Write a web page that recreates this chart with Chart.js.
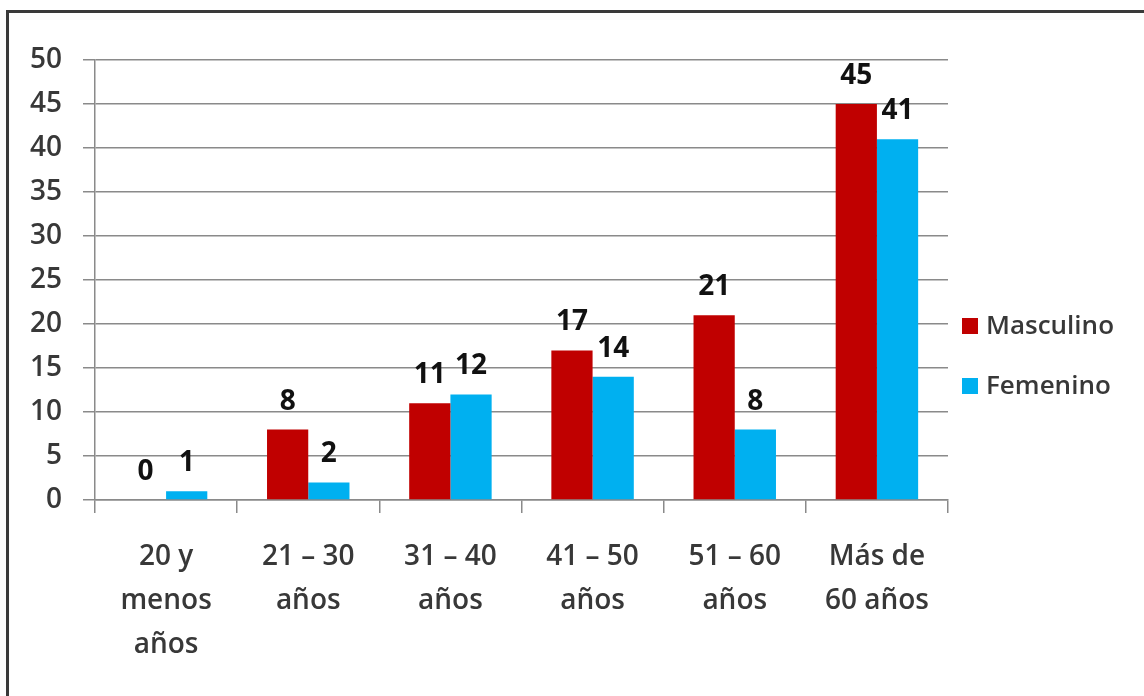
<!DOCTYPE html>
<html>
<head>
<meta charset="utf-8">
<script src="https://cdn.jsdelivr.net/npm/chart.js@4.4.1/dist/chart.umd.min.js"></script>
<style>
  html, body { margin: 0; padding: 0; background: #fff; }
  #wrap { position: relative; width: 1144px; height: 696px; overflow: hidden; }
  #frame { position: absolute; left: 6px; top: 10px; width: 1200px; height: 800px;
           border-top: 3px solid #3a3a3a; border-left: 3px solid #3a3a3a; box-sizing: border-box; }
  canvas { position: absolute; left: 0; top: 0; }
</style>
</head>
<body>
<div id="wrap">
  <div id="frame"></div>
  <canvas id="c" width="1144" height="696"></canvas>
</div>
<script>
const categories = [["20 y", "menos", "años"], ["21 – 30", "años"], ["31 – 40", "años"], ["41 – 50", "años"], ["51 – 60", "años"], ["Más de", "60 años"]];
const masculino = [0, 8, 11, 17, 21, 45];
const femenino = [1, 2, 12, 14, 8, 41];
const seriesNames = ["Masculino", "Femenino"];
const seriesColors = ["#C00000", "#00B0F0"];
const yMin = 0, yMax = 50, yStep = 5;

const FONT = "'Open Sans', Lato, sans-serif";
const TEXT = "#383838";

const valueLabels = {
  id: 'valueLabels',
  afterDatasetsDraw(chart) {
    const ctx = chart.ctx;
    ctx.save();
    ctx.font = "bold 28px " + FONT;
    ctx.fillStyle = "#111";
    ctx.textAlign = "center";
    ctx.textBaseline = "alphabetic";
    chart.data.datasets.forEach((ds, di) => {
      chart.getDatasetMeta(di).data.forEach((bar, i) => {
        ctx.fillText(String(ds.data[i]), bar.x, bar.y - 20);
      });
    });
    ctx.restore();
  }
};

const customLegend = {
  id: 'customLegend',
  afterDraw(chart) {
    const ctx = chart.ctx;
    ctx.save();
    ctx.font = "600 26px " + FONT;
    ctx.textBaseline = "middle";
    ctx.textAlign = "left";
    const x0 = 962, ys = [326, 386];
    chart.data.datasets.forEach((ds, i) => {
      ctx.fillStyle = ds.backgroundColor;
      ctx.fillRect(x0, ys[i] - 8, 16, 16);
      ctx.fillStyle = TEXT;
      ctx.fillText(ds.label, x0 + 24, ys[i] + 1);
    });
    ctx.restore();
  }
};

new Chart(document.getElementById('c'), {
  type: 'bar',
  data: {
    labels: categories,
    datasets: [
      { label: seriesNames[0], data: masculino, backgroundColor: seriesColors[0] },
      { label: seriesNames[1], data: femenino, backgroundColor: seriesColors[1] }
    ]
  },
  options: {
    responsive: false,
    animation: false,
    devicePixelRatio: 1,
    layout: { padding: { left: 0, right: 196, top: 60, bottom: 0 } },
    datasets: { bar: { barPercentage: 1.0, categoryPercentage: 0.58 } },
    plugins: { legend: { display: false }, tooltip: { enabled: false } },
    scales: {
      x: {
        afterFit(scale) { scale.height = 196; },
        grid: { drawOnChartArea: false, drawTicks: true, tickLength: 13, color: '#8a8a8a', lineWidth: 1.5, offset: true },
        border: { color: '#8a8a8a', width: 1.5 },
        ticks: { color: TEXT, font: { family: FONT, size: 28, weight: '600', lineHeight: 1.57 }, padding: 22, maxRotation: 0, autoSkip: false }
      },
      y: {
        min: yMin, max: yMax,
        afterFit(scale) { scale.width = 95; },
        grid: { color: '#8a8a8a', lineWidth: 1.5, tickLength: 12 },
        border: { color: '#8a8a8a', width: 1.5 },
        ticks: { stepSize: yStep, color: TEXT, font: { family: FONT, size: 28, weight: '600' }, padding: 21 }
      }
    }
  },
  plugins: [valueLabels, customLegend]
});
</script>
</body>
</html>
